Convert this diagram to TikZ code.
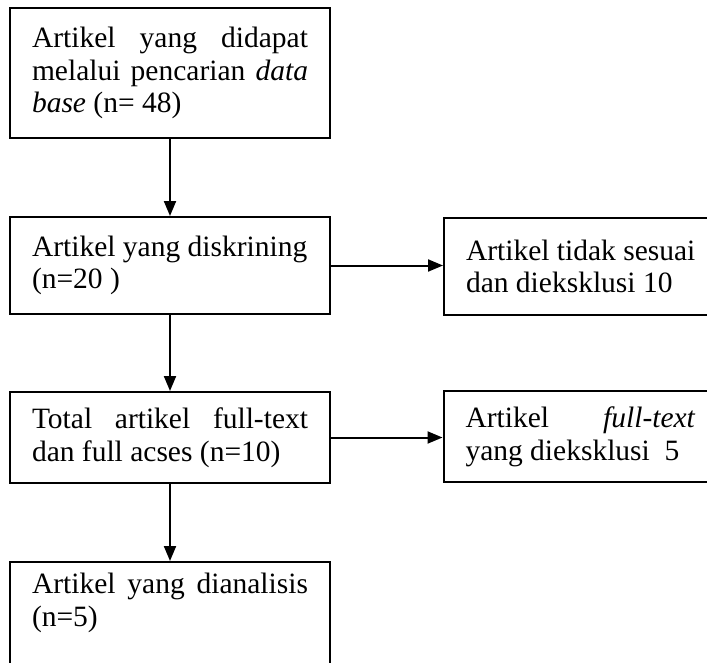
\documentclass[tikz,border=0pt]{standalone}
\usepackage{fontspec}
\setmainfont{Liberation Serif}
\usepackage{tikz}
\usetikzlibrary{arrows.meta}

\begin{document}
\begin{tikzpicture}[x=1pt, y=-1pt, font=\fontsize{29.5}{32.8}\selectfont,
  box/.style={draw, line width=2pt, align=justify, inner xsep=22pt, inner ysep=0pt},
  mainbox/.style={box, text width=276pt},
  sidebox/.style={box, text width=230pt},
  arr/.style={line width=2pt, -{Triangle[length=15pt, width=12pt]}}]
  \useasboundingbox (0,0) rectangle (707,662);
  \clip (0,0) rectangle (707,662);

  \node[mainbox, minimum height=130pt] (found) at (170,73)
    {Artikel yang didapat\linebreak melalui pencarian \textit{data}\linebreak \textit{base} (n= 48)};
  \node[mainbox, minimum height=97pt] (screen) at (170,265.5)
    {Artikel yang diskrining\\(n=20 )};
  \node[mainbox, minimum height=91pt] (full) at (170,437.5)
    {Total artikel full-text\linebreak dan full acses (n=10)};
  \node[mainbox, minimum height=108pt] (anal) at (170,616)
    {Artikel yang dianalisis\linebreak (n=5)\\\mbox{}};

  \node[sidebox, minimum height=97pt] (excl1) at (581,266.5)
    {Artikel tidak sesuai\\dan dieksklusi 10};
  \node[sidebox, minimum height=91pt] (excl2) at (580.5,436.5)
    {Artikel \textit{full-text}\linebreak yang dieksklusi~~5};

  \draw[arr] (found) -- (screen);
  \draw[arr] (screen) -- (full);
  \draw[arr] (full) -- (anal);
  \draw[arr] (screen.east) -- (screen.east -| excl1.west);
  \draw[arr] (full.east) -- (full.east -| excl2.west);
\end{tikzpicture}
\end{document}
